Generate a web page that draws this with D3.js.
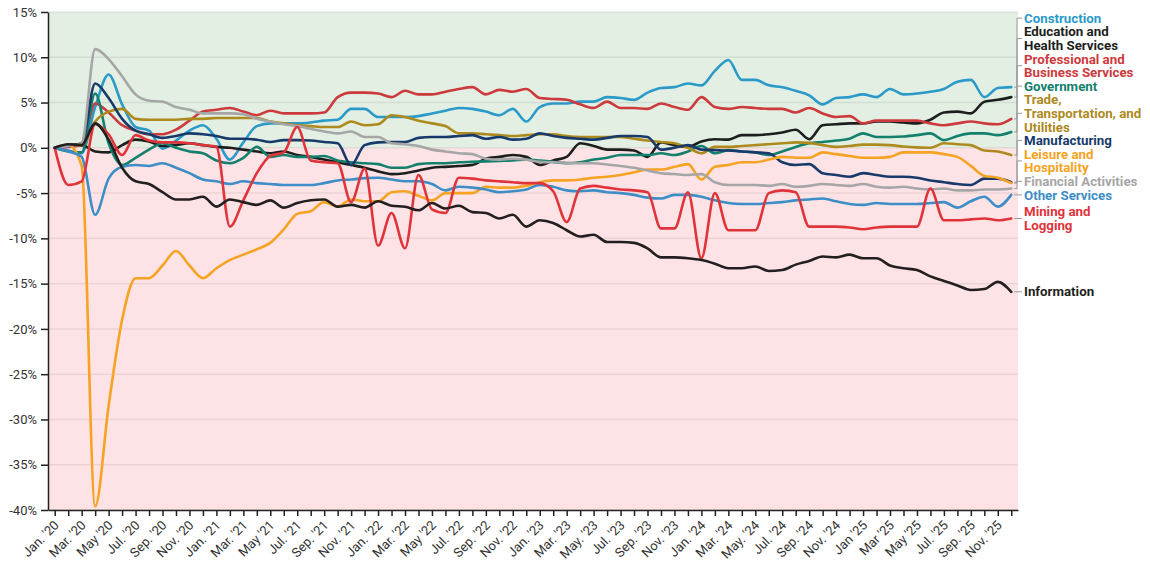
<!DOCTYPE html>
<meta charset="utf-8">
<head>
    <title>Change by sector</title>
</head>
<style>
 body { margin: 0; background: #fff; }
 text { font-family: Roboto, "Noto Sans", sans-serif; }
 .grid line { stroke: #000; stroke-opacity: 0.07; stroke-width: 1.5px; }
 .axis text { font-size: 13px; fill: #333; }
 .axis path, .axis line { stroke: #222; stroke-width: 1.5px; }
 .series { fill: none; stroke-width: 2.6px; stroke-linejoin: round; stroke-linecap: round; }
 .leader { fill: none; stroke: #9a9a9a; stroke-width: 1px; }
 .label { font-size: 13.3px; font-weight: 700; }
</style>
<body>
<svg id="chart" width="1150" height="566"></svg>
<script src="https://d3js.org/d3.v7.min.js"></script>
<script>

 // months Jan 2020 .. Dec 2025
 var months = d3.timeMonth.range(new Date(2020, 0, 1), new Date(2026, 0, 1));

 // one label every second month
 var tickLabels = [
     "Jan. '20", "Mar. '20", "May '20", "Jul. '20", "Sep. '20", "Nov. '20",
     "Jan. '21", "Mar. '21", "May '21", "Jul. '21", "Sep. '21", "Nov. '21",
     "Jan. '22", "Mar. '22", "May '22", "Jul. '22", "Sep. '22", "Nov. '22",
     "Jan. '23", "Mar. '23", "May. '23", "Jul. '23", "Sep. '23", "Nov. '23",
     "Jan. '24", "Mar. '24", "May. '24", "Jul. '24", "Sep. '24", "Nov. '24",
     "Jan '25", "Mar '25", "May '25", "Jul. '25", "Sep. '25", "Nov. '25"
 ];

 var yTicks = [15, 10, 5, 0, -5, -10, -15, -20, -25, -30, -35, -40];

 var construction = [0, -0.3, -0.6, 4.5, 8.1, 4.8, 2.3, 1.9, -0.1, 0.8, 1.9, 2.5,
     1.0, -1.3, 0.6, 2.4, 2.7, 2.7, 2.7, 2.8, 3.0, 3.1, 4.3, 4.3,
     3.4, 3.4, 3.4, 3.5, 3.8, 4.1, 4.4, 4.3, 4.0, 3.6, 4.3, 2.9,
     4.5, 4.9, 4.9, 5.1, 5.1, 5.6, 5.5, 5.3, 6.1, 6.6, 6.7, 7.1,
     6.9, 8.5, 9.7, 7.5, 7.5, 6.9, 6.7, 6.3, 5.8, 4.8, 5.5, 5.6,
     5.9, 5.6, 6.5, 5.9, 6.0, 6.2, 6.5, 7.3, 7.5, 5.6, 6.6, 6.7];

 var education = [0, 0.3, 0.3, -0.4, -0.5, 0.3, 0.9, 0.7, 0.2, 0.3, 0.5, 0.3,
     0.1, 0.0, -0.2, -0.4, -0.6, -0.4, -0.8, -1.0, -1.3, -1.6, -1.9, -2.2,
     -2.6, -2.9, -2.8, -2.5, -2.2, -2.1, -2.0, -1.9, -1.2, -1.0, -0.8, -1.0,
     -1.9, -1.4, -1.0, 0.5, 0.2, -0.2, -0.2, -0.3, -1.0, 0.6, 0.3, 0.1,
     0.7, 0.95, 0.9, 1.4, 1.4, 1.5, 1.7, 2.0, 0.95, 2.5, 2.6, 2.7,
     2.7, 2.9, 2.9, 2.8, 2.7, 3.1, 3.9, 4.0, 3.8, 5.1, 5.3, 5.6];

 var professional = [0, 0.1, 0.3, 4.9, 3.9, 2.5, 1.9, 1.5, 1.5, 2.0, 3.0, 4.0,
     4.2, 4.4, 4.0, 3.6, 4.1, 3.8, 3.8, 3.8, 3.9, 5.6, 6.1, 6.1,
     6.0, 5.6, 6.3, 5.9, 5.9, 6.2, 6.5, 6.7, 5.9, 6.4, 6.2, 6.5,
     5.5, 5.4, 5.3, 4.8, 4.4, 5.1, 4.4, 4.4, 4.3, 4.9, 4.5, 4.2,
     5.6, 4.5, 4.3, 4.5, 4.4, 4.3, 4.3, 3.9, 4.4, 3.8, 3.4, 3.5,
     2.7, 3.0, 3.0, 3.0, 3.0, 2.7, 2.5, 2.7, 2.9, 2.7, 2.6, 3.2];

 var government = [0, -0.4, -0.5, 6.0, 0.5, -1.9, -1.1, -0.2, 0.5, 0.0, -0.4, -0.6,
     -1.4, -1.7, -1.1, 0.1, -1.0, -0.8, -1.0, -1.0, -0.9, -1.4, -1.6, -1.7,
     -1.8, -2.2, -2.2, -1.8, -1.7, -1.7, -1.6, -1.55, -1.5, -1.45, -1.4, -1.3,
     -1.4, -1.55, -1.7, -1.6, -1.3, -1.1, -0.8, -0.8, -0.8, -0.6, -0.8, -0.4,
     0.2, -0.6, -0.25, -0.4, -0.5, -0.8, -0.4, 0.1, 0.5, 0.65, 0.8, 1.0,
     1.6, 1.2, 1.2, 1.25, 1.4, 1.6, 0.85, 1.3, 1.6, 1.6, 1.4, 1.75];

 var trade = [0, 0.3, 0.3, 2.9, 4.0, 4.3, 3.2, 3.1, 3.1, 3.1, 3.2, 3.2,
     3.3, 3.3, 3.3, 3.3, 2.9, 2.7, 2.5, 2.4, 2.3, 2.3, 2.9, 2.5,
     2.6, 3.6, 3.4, 3.0, 2.7, 2.4, 1.6, 1.6, 1.5, 1.4, 1.3, 1.4,
     1.5, 1.5, 1.3, 1.2, 1.2, 1.2, 1.2, 1.0, 0.8, 0.65, 0.5, 0.0,
     -0.6, 0.1, 0.1, 0.2, 0.3, 0.4, 0.5, 0.6, 0.55, 0.3, 0.1, 0.2,
     0.35, 0.35, 0.3, 0.15, 0.05, 0.0, 0.5, 0.4, 0.3, -0.3, -0.4, -0.8];

 var manufacturing = [0, 0.2, 0.5, 7.1, 5.5, 3.2, 1.9, 1.5, 1.1, 1.3, 1.6, 1.5,
     1.3, 1.0, 1.0, 0.9, 0.65, 0.85, 0.85, 0.8, 0.65, 0.5, -1.9, 0.3,
     0.6, 0.65, 0.65, 1.1, 1.2, 1.2, 1.3, 1.4, 1.0, 1.2, 0.9, 1.0,
     1.6, 1.3, 1.1, 1.0, 0.9, 1.1, 1.3, 1.3, 1.2, -0.2, 0.0, 0.3,
     -0.2, -0.25, -0.3, -0.4, -0.5, -0.6, -1.6, -1.9, -1.8, -2.8, -3.0, -3.2,
     -2.8, -3.0, -3.2, -3.2, -3.3, -3.6, -3.8, -4.0, -4.1, -3.4, -3.4, -3.8];

 var leisure = [0, 0.3, -2.0, -39.6, -28.5, -19.0, -14.4, -14.4, -13.0, -11.4, -13.0, -14.4,
     -13.3, -12.4, -11.8, -11.2, -10.5, -9.0, -7.3, -7.0, -6.0, -6.5, -5.7, -5.9,
     -5.9, -4.9, -4.8, -5.3, -5.8, -5.0, -5.0, -5.0, -4.3, -4.4, -4.4, -4.2,
     -3.8, -3.6, -3.6, -3.5, -3.3, -3.2, -3.0, -2.7, -2.4, -2.4, -2.1, -1.8,
     -3.5, -2.1, -1.9, -1.6, -1.6, -1.3, -1.0, -1.1, -1.1, -0.5, -0.7, -0.9,
     -1.1, -1.1, -1.0, -0.5, -0.5, -0.5, -0.7, -1.0, -2.0, -3.1, -3.3, -3.9];

 var financial = [0, 0.2, 0.5, 10.9, 9.8, 7.9, 5.9, 5.2, 5.1, 4.5, 4.2, 3.8,
     3.8, 3.8, 3.7, 3.2, 2.9, 2.6, 2.4, 2.1, 1.8, 1.6, 1.8, 1.2,
     1.2, 0.5, 0.4, 0.2, -0.2, -0.4, -0.6, -0.7, -1.2, -1.3, -1.2, -1.3,
     -1.55, -1.6, -1.65, -1.7, -1.7, -1.85, -2.0, -2.2, -2.5, -2.8, -2.9, -3.0,
     -2.9, -3.8, -4.1, -4.1, -4.1, -4.2, -4.0, -4.3, -4.2, -4.0, -4.1, -4.2,
     -4.0, -4.3, -4.4, -4.3, -4.5, -4.6, -4.5, -4.7, -4.7, -4.6, -4.6, -4.5];

 var otherServices = [0, -0.4, -1.0, -7.4, -3.4, -2.1, -1.9, -2.0, -1.7, -2.2, -2.8, -3.5,
     -3.7, -4.0, -3.7, -3.9, -4.0, -4.1, -4.1, -4.1, -3.9, -3.6, -3.5, -3.35,
     -3.3, -3.5, -3.7, -3.7, -4.0, -4.7, -4.3, -4.4, -4.6, -4.9, -4.8, -4.6,
     -4.1, -4.3, -4.7, -4.8, -4.7, -4.9, -5.0, -5.2, -5.5, -5.6, -5.2, -5.2,
     -5.4, -5.8, -6.1, -6.2, -6.2, -6.1, -6.0, -5.8, -5.7, -5.6, -5.9, -6.2,
     -6.3, -6.1, -6.2, -6.2, -6.2, -6.1, -6.0, -6.6, -5.9, -5.4, -6.5, -5.2];

 var mining = [0, -4.1, -3.7, 2.6, 1.5, -0.8, 1.4, 0.8, 0.6, 0.6, 0.5, 0.3,
     0.1, -8.7, -5.8, -2.8, -0.9, -0.5, 2.3, -1.4, -1.6, -1.7, -6.0, -2.3,
     -10.8, -7.2, -11.1, -3.0, -6.8, -7.2, -3.3, -3.4, -3.6, -3.7, -3.8, -3.9,
     -3.9, -4.8, -8.2, -4.5, -4.2, -4.4, -4.6, -4.7, -4.9, -8.9, -8.9, -4.9,
     -12.2, -5.0, -9.1, -9.1, -9.1, -5.0, -4.7, -4.9, -8.7, -8.7, -8.7, -8.8,
     -9.0, -8.8, -8.7, -8.7, -8.7, -4.5, -8.0, -8.0, -7.9, -7.8, -8.0, -7.8];

 var information = [0, 0.4, 0.3, 2.7, 0.9, -2.2, -3.7, -4.0, -4.9, -5.7, -5.7, -5.4,
     -6.5, -5.7, -6.0, -6.3, -5.8, -6.6, -6.1, -5.8, -5.7, -6.5, -6.3, -6.6,
     -5.9, -6.4, -6.5, -6.9, -6.1, -6.7, -6.4, -7.1, -7.2, -7.8, -7.4, -8.7,
     -8.0, -8.3, -9.1, -9.8, -9.6, -10.4, -10.4, -10.5, -11.1, -12.1, -12.1, -12.2,
     -12.4, -12.8, -13.3, -13.3, -13.1, -13.6, -13.5, -12.9, -12.5, -12.0, -12.1, -11.8,
     -12.2, -12.2, -13.0, -13.3, -13.5, -14.2, -14.7, -15.2, -15.7, -15.6, -14.8, -15.9];

 var series = [
     {name: ["Construction"], color: "#2b9ac9", values: construction},
     {name: ["Education and", "Health Services"], color: "#1c1f1d", values: education},
     {name: ["Professional and", "Business Services"], color: "#cc3a3d", values: professional},
     {name: ["Government"], color: "#13806d", values: government},
     {name: ["Trade,", "Transportation, and", "Utilities"], color: "#ad8a1e", values: trade},
     {name: ["Manufacturing"], color: "#173a6b", values: manufacturing},
     {name: ["Leisure and", "Hospitality"], color: "#f6a323", values: leisure},
     {name: ["Financial Activities"], color: "#a6a6a6", values: financial},
     {name: ["Other Services"], color: "#3d8dc6", values: otherServices},
     {name: ["Mining and", "Logging"], color: "#e0343b", values: mining},
     {name: ["Information"], color: "#231f20", values: information}
 ];

 var margin = {top: 12, right: 132, bottom: 56, left: 48},
     width = 1150,
     height = 566;

 var svg = d3.select("#chart");

 var x = d3.scalePoint()
           .domain(d3.range(months.length))
           .range([margin.left, width - margin.right])
           .padding(0.5);

 var y = d3.scaleLinear()
           .domain([-40, 15])
           .range([height - margin.bottom, margin.top]);

 var x0 = margin.left, x1 = width - margin.right;

 // green above zero, pink below
 svg.append("rect")
    .attr("x", x0).attr("width", x1 - x0)
    .attr("y", y(15)).attr("height", y(0) - y(15))
    .attr("fill", "#e3efe3");

 svg.append("rect")
    .attr("x", x0).attr("width", x1 - x0)
    .attr("y", y(0)).attr("height", y(-40) - y(0))
    .attr("fill", "#fde3e5");

 svg.append("g")
    .attr("class", "grid")
    .selectAll("line")
    .data(yTicks)
    .enter()
    .append("line")
    .attr("x1", x0).attr("x2", x1)
    .attr("y1", function(d) { return y(d); })
    .attr("y2", function(d) { return y(d); });

 var line = d3.line()
              .x(function(d, i) { return x(i); })
              .y(function(d) { return y(d); })
              .curve(d3.curveMonotoneX);

 svg.append("g")
    .selectAll("path")
    .data(series)
    .enter()
    .append("path")
    .attr("class", "series")
    .attr("stroke", function(d) { return d.color; })
    .attr("d", function(d) { return line(d.values); });

 // axes
 svg.append("g")
    .attr("class", "axis")
    .attr("transform", "translate(" + x0 + ",0)")
    .call(d3.axisLeft(y).tickValues(yTicks)
            .tickFormat(function(d) { return d + "%"; })
            .tickSize(7).tickSizeOuter(0).tickPadding(4));

 var xAxis = svg.append("g")
                .attr("class", "axis")
                .attr("transform", "translate(0," + y(-40) + ")")
                .call(d3.axisBottom(x).tickSize(6).tickSizeOuter(0)
                        .tickFormat(""));

 xAxis.selectAll(".tick text").remove();

 svg.append("g")
    .attr("class", "axis")
    .selectAll("text")
    .data(tickLabels)
    .enter()
    .append("text")
    .attr("text-anchor", "end")
    .attr("transform", function(d, i) {
        return "translate(" + (x(i * 2) + 5) + "," + (y(-40) + 16) + ") rotate(-45)";
    })
    .text(function(d) { return d; });

 // end labels: stack from the bottom up so they do not overlap
 var lineH = 13.6;
 var last = months.length - 1;
 var ordered = series.slice().sort(function(a, b) {
     return b.values[last] - a.values[last];
 });

 var limit = Infinity;
 for (var k = ordered.length - 1; k >= 0; k--) {
     var s = ordered[k];
     var h = s.name.length * lineH;
     var c = Math.min(y(s.values[last]), limit - h / 2);
     s.labelY = c;
     limit = c - h / 2;
 }

 var xe = x(last);

 svg.append("g")
    .selectAll("path")
    .data(ordered)
    .enter()
    .append("path")
    .attr("class", "leader")
    .attr("d", function(d) {
        var ye = y(d.values[last]);
        return "M" + (xe + 3) + "," + ye + "H" + (x1 - 1) +
               "V" + d.labelY + "H" + (x1 + 4);
    });

 var labels = svg.append("g")
                 .selectAll("text")
                 .data(ordered)
                 .enter()
                 .append("text")
                 .attr("class", "label")
                 .attr("fill", function(d) { return d.color; });

 labels.selectAll("tspan")
       .data(function(d) {
           return d.name.map(function(t, j) {
               return {t: t, y: d.labelY + (j - (d.name.length - 1) / 2) * lineH};
           });
       })
       .enter()
       .append("tspan")
       .attr("x", x1 + 6)
       .attr("y", function(d) { return d.y; })
       .attr("dy", "0.35em")
       .text(function(d) { return d.t; });

</script>
</body>
